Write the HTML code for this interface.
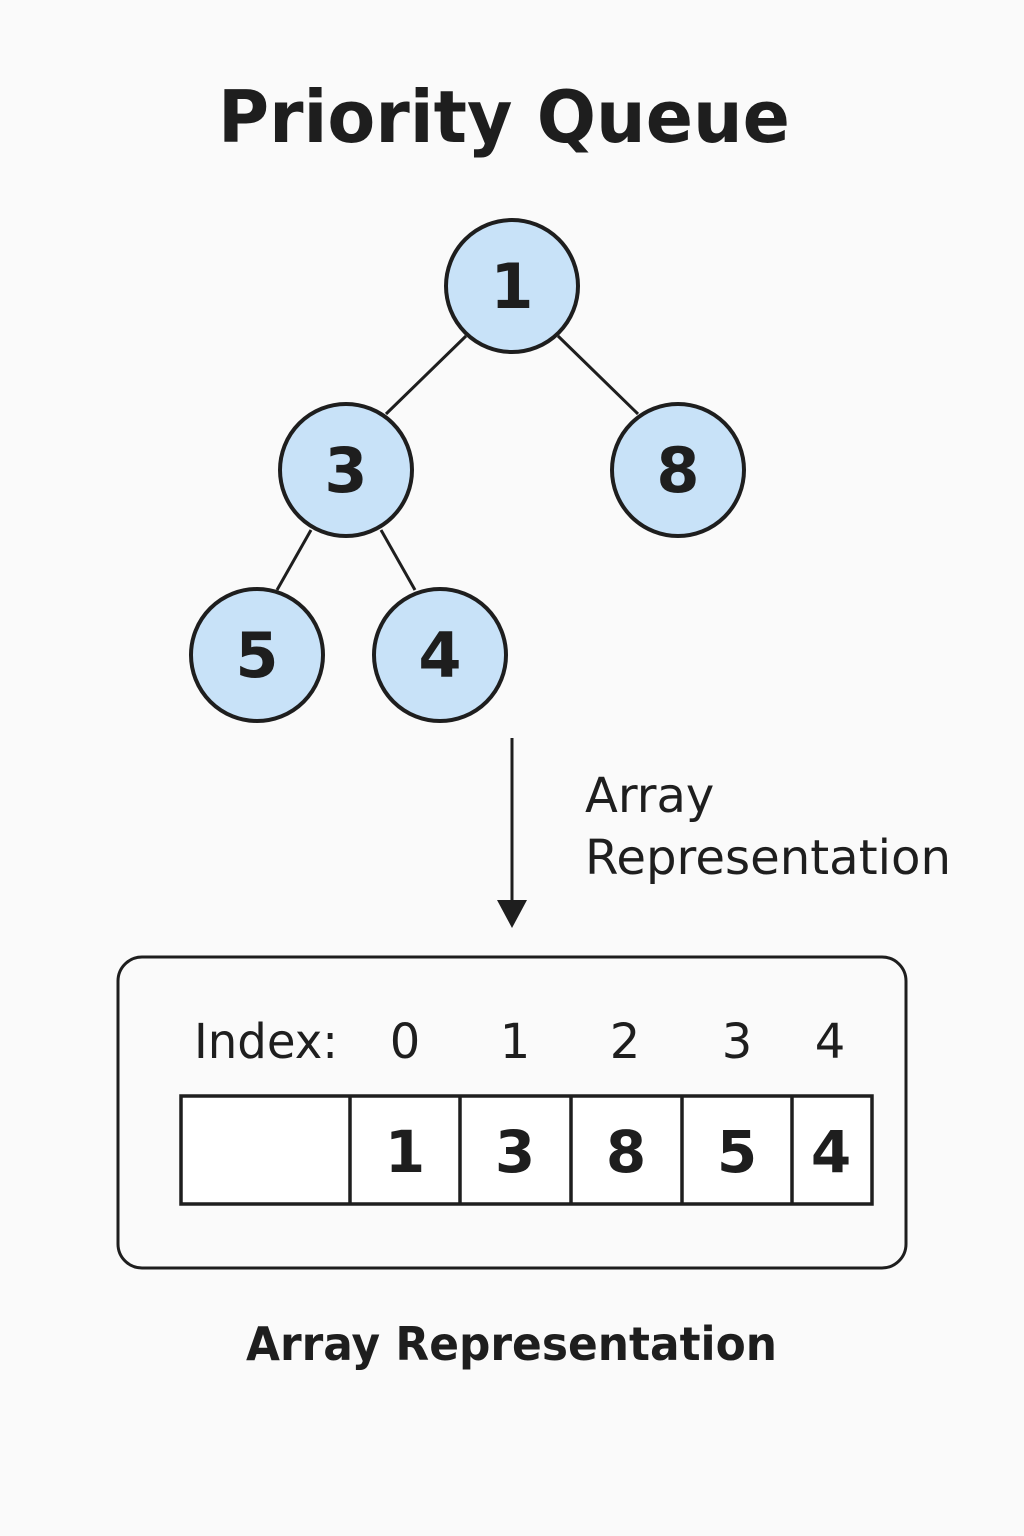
<!DOCTYPE html>
<html><head><meta charset="utf-8"><style>
html,body{margin:0;padding:0;background:#fafafa;}
svg{display:block;}
text{font-family:"DejaVu Sans","Liberation Sans",sans-serif;fill:#1e1e1e;}
</style></head><body>
<svg width="1024" height="1536" viewBox="0 0 1024 1536" xmlns="http://www.w3.org/2000/svg">
<rect width="1024" height="1536" fill="#fafafa"/>
<text x="218" y="142" font-size="72" font-weight="bold" textLength="572" lengthAdjust="spacingAndGlyphs">Priority Queue</text>
<g stroke="#1e1e1e" stroke-width="3" fill="none">
<line x1="466" y1="336" x2="386" y2="414"/>
<line x1="558" y1="336" x2="638" y2="414"/>
<line x1="311" y1="530" x2="277" y2="590"/>
<line x1="381" y1="530" x2="415" y2="590"/>
</g>
<g stroke="#1e1e1e" stroke-width="4" fill="#c8e2f8">
<circle cx="512" cy="286" r="66"/>
<circle cx="346" cy="470" r="66"/>
<circle cx="678" cy="470" r="66"/>
<circle cx="257" cy="655" r="66"/>
<circle cx="440" cy="655" r="66"/>
</g>
<g font-size="62" font-weight="bold" text-anchor="middle">
<text x="512" y="308">1</text>
<text x="346" y="492">3</text>
<text x="678" y="492">8</text>
<text x="257" y="677">5</text>
<text x="440" y="677">4</text>
</g>
<line x1="512" y1="738" x2="512" y2="905" stroke="#1e1e1e" stroke-width="3"/>
<polygon points="497,900 527,900 512,928" fill="#1e1e1e"/>
<text x="585" y="812" font-size="48">Array</text>
<text x="585" y="874" font-size="48" textLength="366" lengthAdjust="spacingAndGlyphs">Representation</text>
<rect x="118" y="957" width="788" height="311" rx="24" fill="none" stroke="#1e1e1e" stroke-width="3"/>
<g font-size="48">
<text x="194" y="1058" textLength="144" lengthAdjust="spacingAndGlyphs">Index:</text>
<text x="405" y="1058" text-anchor="middle">0</text>
<text x="515" y="1058" text-anchor="middle">1</text>
<text x="625" y="1058" text-anchor="middle">2</text>
<text x="737" y="1058" text-anchor="middle">3</text>
<text x="830" y="1058" text-anchor="middle">4</text>
</g>
<g stroke="#1e1e1e" stroke-width="3.5" fill="none">
<rect x="181" y="1096" width="691" height="108" fill="#fff"/>
<line x1="350" y1="1096" x2="350" y2="1204"/>
<line x1="460" y1="1096" x2="460" y2="1204"/>
<line x1="571" y1="1096" x2="571" y2="1204"/>
<line x1="682" y1="1096" x2="682" y2="1204"/>
<line x1="792" y1="1096" x2="792" y2="1204"/>
</g>
<g font-size="58" font-weight="bold" text-anchor="middle">
<text x="405" y="1172">1</text>
<text x="515" y="1172">3</text>
<text x="626" y="1172">8</text>
<text x="737" y="1172">5</text>
<text x="831" y="1172">4</text>
</g>
<text x="246" y="1360" font-size="46" font-weight="bold" textLength="531" lengthAdjust="spacingAndGlyphs">Array Representation</text>
</svg>
</body></html>
